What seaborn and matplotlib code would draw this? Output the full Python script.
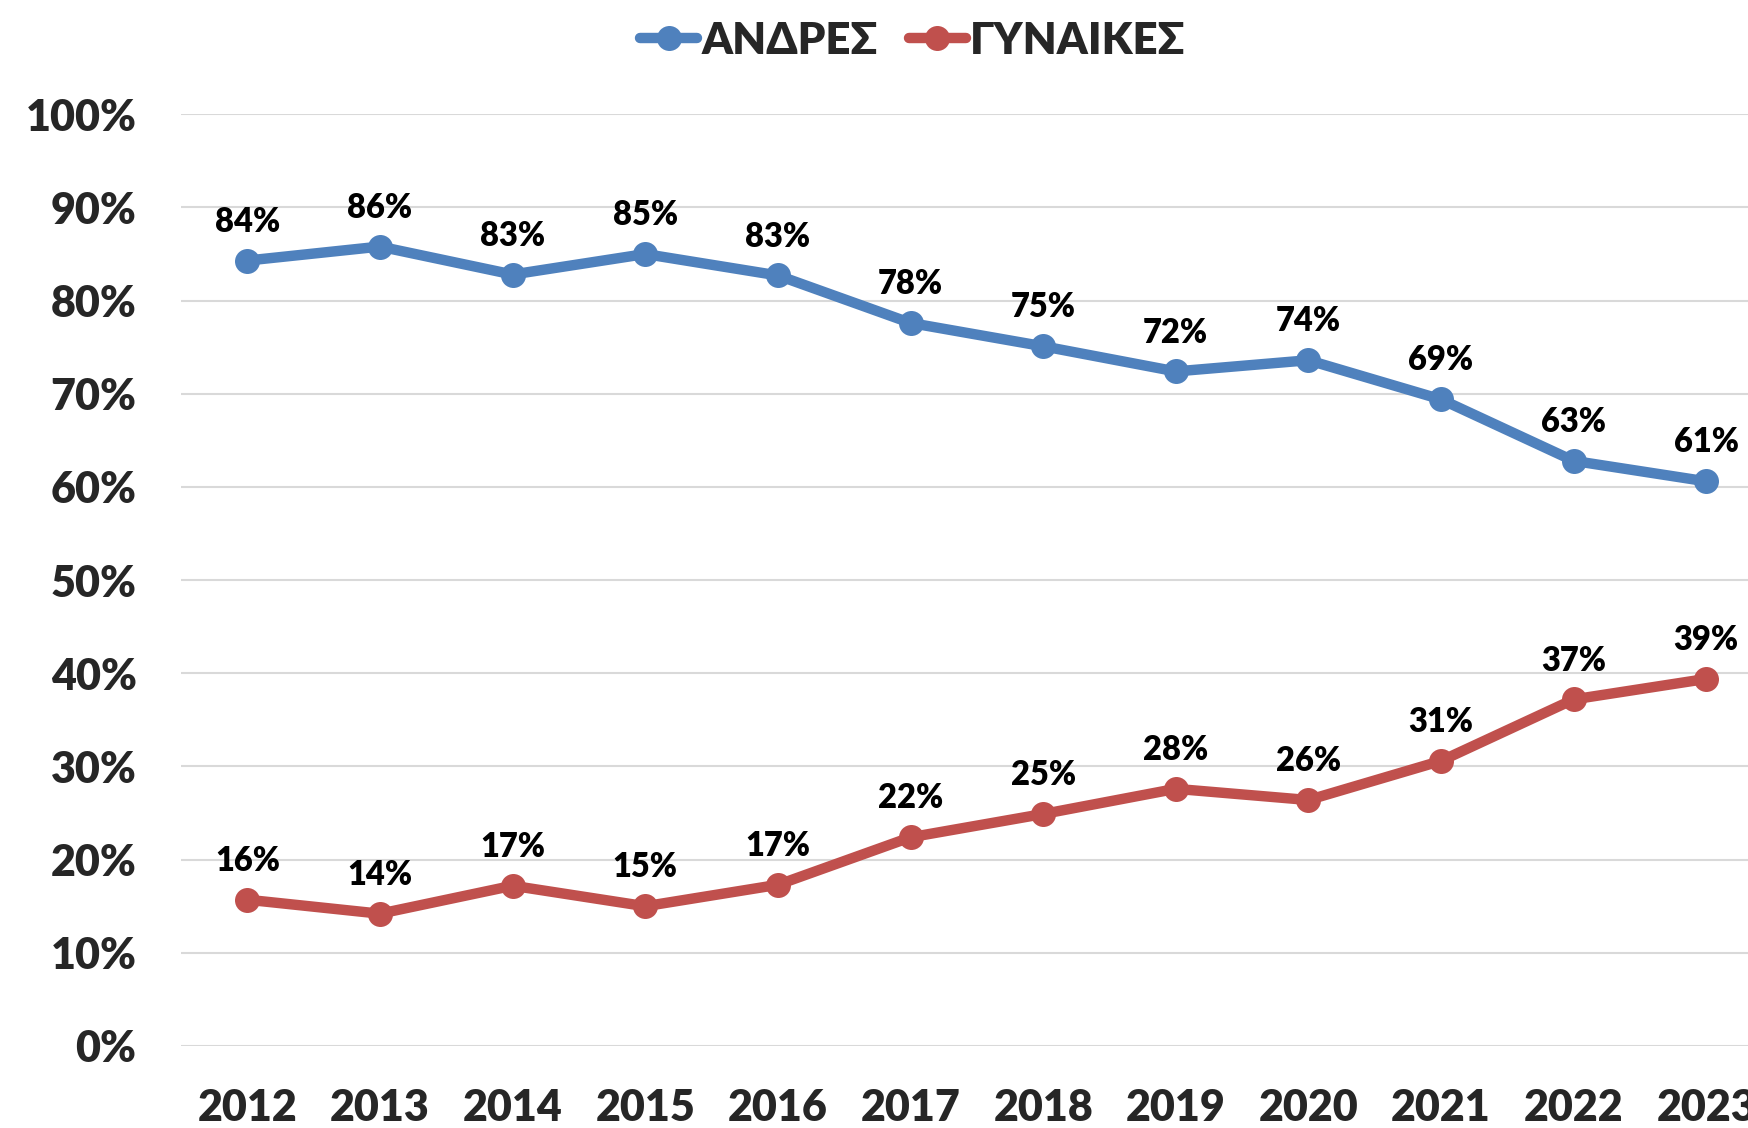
import pandas as pd
import matplotlib.pyplot as plt
import seaborn as sns

years = [2012, 2013, 2014, 2015, 2016, 2017, 2018, 2019, 2020, 2021, 2022, 2023]
men = [84.3, 85.8, 82.8, 85.0, 82.7, 77.6, 75.1, 72.4, 73.6, 69.4, 62.8, 60.6]
women = [15.7, 14.2, 17.2, 15.0, 17.3, 22.4, 24.9, 27.6, 26.4, 30.6, 37.2, 39.4]
series_names = ["ΑΝΔΡΕΣ", "ΓΥΝΑΙΚΕΣ"]
colors = ["#4F81BD", "#C0504D"]
y_ticks = [0, 10, 20, 30, 40, 50, 60, 70, 80, 90, 100]

sns.set_style("white")
plt.rcParams["font.family"] = ["Lato", "DejaVu Sans"]
plt.rcParams["font.weight"] = "heavy"

df = pd.DataFrame({"year": years * 2,
                   "value": men + women,
                   "series": [series_names[0]] * len(years) + [series_names[1]] * len(years)})

fig = plt.figure(figsize=(17.49, 11.28), dpi=100)
ax = fig.add_axes([0.1035, 0.0727, 0.91, 0.826])

sns.lineplot(data=df, x="year", y="value", hue="series", palette=colors,
             marker="o", markersize=18, markeredgewidth=0, linewidth=7.5,
             ax=ax, legend=False)

# data labels above each point
for name, vals, c in zip(series_names, [men, women], colors):
    for x, v in zip(years, vals):
        ax.annotate(f"{v:.0f}%", (x, v), xytext=(0, 28), textcoords="offset points",
                    ha="center", va="center", fontsize=23.5, fontweight="heavy", color="black")

ax.set_xlim(2011.5, 2023.5)
ax.set_ylim(0, 100)
ax.set_yticks(y_ticks)
ax.set_yticklabels([f"{t}%" for t in y_ticks])
ax.set_xticks(years)
ax.set_xticklabels([str(y) for y in years])
ax.tick_params(axis="y", length=0, pad=32, labelsize=31)
ax.tick_params(axis="x", length=0, pad=30, labelsize=31)
ax.set_xlabel("")
ax.set_ylabel("")
ax.grid(axis="y", color="#D9D9D9", linewidth=1.5)
ax.set_axisbelow(True)
for s in ax.spines.values():
    s.set_visible(False)

handles = [plt.Line2D([0], [0], color=c, marker="o", markersize=18, linewidth=7.5,
                      markeredgewidth=0) for c in colors]
fig.legend(handles, series_names, loc="center", bbox_to_anchor=(0.522, 0.964), ncol=2,
           frameon=False, handlelength=1.3, handletextpad=0.1,
           columnspacing=0.7, prop={"weight": "heavy", "size": 31.5})

fig.savefig("out.png", dpi=100)
